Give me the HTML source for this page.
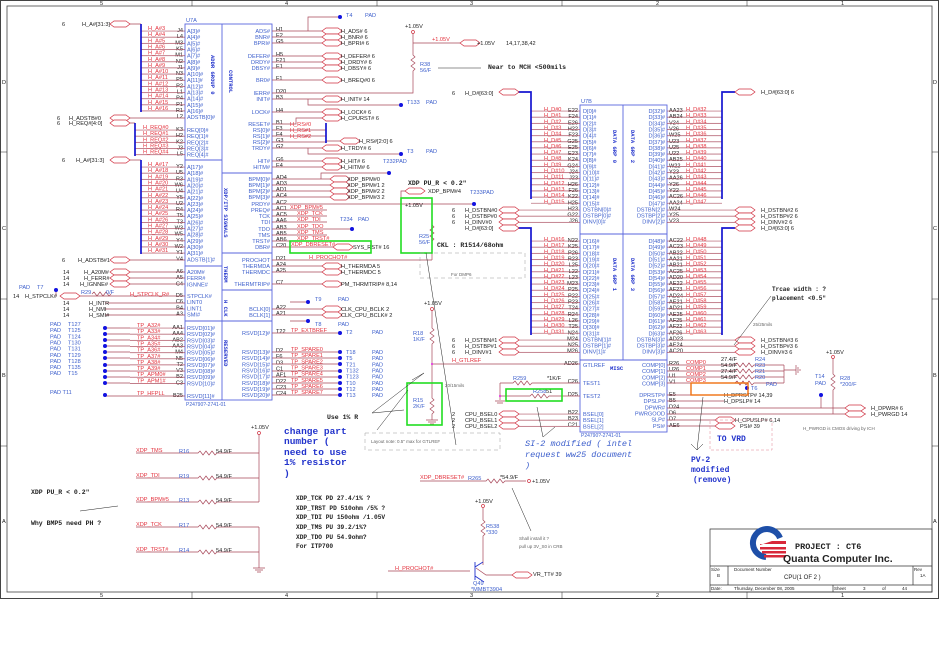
<!DOCTYPE html>
<html><head><meta charset="utf-8"><style>
html,body{margin:0;padding:0;background:#fff}
svg{display:block}
text{font-family:"Liberation Sans",sans-serif;font-size:5.6px}
.p{fill:#3d5fcc}.r{fill:#e3303c}.k{fill:#222}.b{fill:#2233cc}.gr{fill:#666}
.m{font-family:"Liberation Mono",monospace;font-weight:bold}
.w{stroke:#a8485a;stroke-width:.7;fill:none}
.bus{stroke:#1515d0;stroke-width:1.7;fill:none}
.ch{stroke:#5a66dd;stroke-width:.9;fill:none}
.fl{stroke:#d03040;stroke-width:.7;fill:#fff}
.d{fill:#1212e0}
.g{stroke:#22dd22;stroke-width:1.6;fill:none}
.bl{stroke:#222;stroke-width:.5;fill:none}
</style></head><body>
<svg width="950" height="672" viewBox="0 0 950 672" xmlns="http://www.w3.org/2000/svg">
<defs>
<path id="f" d="M0,0 l4,-3 h12 l4,3 l-4,3 h-12z" class="fl"/>
<pattern id="hl" width="4" height="6.15" patternUnits="userSpaceOnUse"><rect width="4" height="0.7" fill="#a8485a"/></pattern>
</defs>
<!-- frame -->
<rect x="0.5" y="0.5" width="938" height="598" fill="none" stroke="#444" stroke-width="1"/>
<rect x="7" y="6" width="925" height="586" fill="none" stroke="#444" stroke-width="0.8"/>
<path d="M192,0V6M377,0V6M562,0V6M747,0V6M192,592V599M377,592V599M562,592V599M747,592V599M0,152H7M0,299H7M0,446H7M932,152H938M932,299H938M932,446H938" class="bl" stroke-width="0.8"/>
<g class="k" style="font-size:4.5px"><text x="100" y="5">5</text><text x="285" y="5">4</text><text x="470" y="5">3</text><text x="656" y="5">2</text><text x="841" y="5">1</text>
<text x="100" y="597">5</text><text x="285" y="597">4</text><text x="470" y="597">3</text><text x="656" y="597">2</text><text x="841" y="597">1</text>
<text x="2" y="84">D</text><text x="2" y="230">C</text><text x="2" y="377">B</text><text x="2" y="523">A</text>
<text x="933" y="84">D</text><text x="933" y="230">C</text><text x="933" y="377">B</text><text x="933" y="523">A</text></g>

<!-- ===== U7A ===== -->
<rect x="185" y="24" width="87" height="376" class="ch"/>
<path d="M222,24V400M185,160H222M185,266H222M185,321H222M222,173H272M222,253H272M222,290H272M222,321H272" class="ch"/>
<text class="p" x="186" y="22">U7A</text>
<text class="p" x="186" y="406" style="font-size:5px">P24790?-2741-01</text>
<text transform="translate(211,55) rotate(90)" class="b m" style="font-size:5.5px">ADDR GROUP 0</text>
<text transform="translate(229,70) rotate(90)" class="b m" style="font-size:5.5px">CONTROL</text>
<text transform="translate(224,188) rotate(90)" class="b m" style="font-size:5.5px">XDP/ITP SIGNALS</text>
<text transform="translate(224,266) rotate(90)" class="b m" style="font-size:5.5px">THERM</text>
<text transform="translate(224,300) rotate(90)" class="b m" style="font-size:5.5px">H CLK</text>
<text transform="translate(224,340) rotate(90)" class="b m" style="font-size:5.5px">RESERVED</text>

<text class="p"><tspan x="187" y="33">A[3]#</tspan><tspan x="187" dy="6.15">A[4]#</tspan><tspan x="187" dy="6.15">A[5]#</tspan><tspan x="187" dy="6.15">A[6]#</tspan><tspan x="187" dy="6.15">A[7]#</tspan><tspan x="187" dy="6.15">A[8]#</tspan><tspan x="187" dy="6.15">A[9]#</tspan><tspan x="187" dy="6.15">A[10]#</tspan><tspan x="187" dy="6.15">A[11]#</tspan><tspan x="187" dy="6.15">A[12]#</tspan><tspan x="187" dy="6.15">A[13]#</tspan><tspan x="187" dy="6.15">A[14]#</tspan><tspan x="187" dy="6.15">A[15]#</tspan><tspan x="187" dy="6.15">A[16]#</tspan><tspan x="187" dy="6.15">ADSTB[0]#</tspan></text>
<text class="p"><tspan x="187" y="132">REQ[0]#</tspan><tspan x="187" dy="6.15">REQ[1]#</tspan><tspan x="187" dy="6.15">REQ[2]#</tspan><tspan x="187" dy="6.15">REQ[3]#</tspan><tspan x="187" dy="6.15">REQ[4]#</tspan></text>
<text class="p"><tspan x="187" y="169">A[17]#</tspan><tspan x="187" dy="6.15">A[18]#</tspan><tspan x="187" dy="6.15">A[19]#</tspan><tspan x="187" dy="6.15">A[20]#</tspan><tspan x="187" dy="6.15">A[21]#</tspan><tspan x="187" dy="6.15">A[22]#</tspan><tspan x="187" dy="6.15">A[23]#</tspan><tspan x="187" dy="6.15">A[24]#</tspan><tspan x="187" dy="6.15">A[25]#</tspan><tspan x="187" dy="6.15">A[26]#</tspan><tspan x="187" dy="6.15">A[27]#</tspan><tspan x="187" dy="6.15">A[28]#</tspan><tspan x="187" dy="6.15">A[29]#</tspan><tspan x="187" dy="6.15">A[30]#</tspan><tspan x="187" dy="6.15">A[31]#</tspan><tspan x="187" dy="6.15">ADSTB[1]#</tspan></text>
<text class="p"><tspan x="187" y="274">A20M#</tspan><tspan x="187" dy="6.15">FERR#</tspan><tspan x="187" dy="6.15">IGNNE#</tspan></text>
<text class="p"><tspan x="187" y="298">STPCLK#</tspan><tspan x="187" dy="6.15">LINT0</tspan><tspan x="187" dy="6.15">LINT1</tspan><tspan x="187" dy="6.15">SMI#</tspan></text>
<text class="p"><tspan x="187" y="330">RSVD[01]#</tspan><tspan x="187" dy="6.15">RSVD[02]#</tspan><tspan x="187" dy="6.15">RSVD[03]#</tspan><tspan x="187" dy="6.15">RSVD[04]#</tspan><tspan x="187" dy="6.15">RSVD[05]#</tspan><tspan x="187" dy="6.15">RSVD[06]#</tspan><tspan x="187" dy="6.15">RSVD[07]#</tspan><tspan x="187" dy="6.15">RSVD[08]#</tspan><tspan x="187" dy="6.15">RSVD[09]#</tspan><tspan x="187" dy="6.15">RSVD[10]#</tspan><tspan x="187" y="398">RSVD[11]#</tspan></text>

<text class="k" text-anchor="end"><tspan x="183" y="32">J4</tspan><tspan x="183" dy="6.15">L4</tspan><tspan x="183" dy="6.15">M3</tspan><tspan x="183" dy="6.15">K5</tspan><tspan x="183" dy="6.15">M1</tspan><tspan x="183" dy="6.15">N2</tspan><tspan x="183" dy="6.15">J1</tspan><tspan x="183" dy="6.15">N3</tspan><tspan x="183" dy="6.15">P5</tspan><tspan x="183" dy="6.15">P2</tspan><tspan x="183" dy="6.15">L1</tspan><tspan x="183" dy="6.15">P4</tspan><tspan x="183" dy="6.15">P1</tspan><tspan x="183" dy="6.15">R1</tspan><tspan x="183" dy="6.15">L2</tspan></text>
<text class="k" text-anchor="end"><tspan x="183" y="131">K3</tspan><tspan x="183" dy="6.15">H2</tspan><tspan x="183" dy="6.15">K2</tspan><tspan x="183" dy="6.15">J3</tspan><tspan x="183" dy="6.15">L5</tspan></text>
<text class="k" text-anchor="end"><tspan x="183" y="168">Y2</tspan><tspan x="183" dy="6.15">U5</tspan><tspan x="183" dy="6.15">R3</tspan><tspan x="183" dy="6.15">W6</tspan><tspan x="183" dy="6.15">U4</tspan><tspan x="183" dy="6.15">Y5</tspan><tspan x="183" dy="6.15">U2</tspan><tspan x="183" dy="6.15">R4</tspan><tspan x="183" dy="6.15">T5</tspan><tspan x="183" dy="6.15">T3</tspan><tspan x="183" dy="6.15">W3</tspan><tspan x="183" dy="6.15">W5</tspan><tspan x="183" dy="6.15">Y4</tspan><tspan x="183" dy="6.15">W2</tspan><tspan x="183" dy="6.15">Y1</tspan><tspan x="183" dy="6.15">V4</tspan></text>
<text class="k" text-anchor="end"><tspan x="183" y="273">A6</tspan><tspan x="183" dy="6.15">A5</tspan><tspan x="183" dy="6.15">C4</tspan><tspan x="183" y="297">D5</tspan><tspan x="183" dy="6.15">C6</tspan><tspan x="183" dy="6.15">B4</tspan><tspan x="183" dy="6.15">A3</tspan></text>
<text class="k" text-anchor="end"><tspan x="183" y="329">AA1</tspan><tspan x="183" dy="6.15">AA4</tspan><tspan x="183" dy="6.15">AB2</tspan><tspan x="183" dy="6.15">AA3</tspan><tspan x="183" dy="6.15">M4</tspan><tspan x="183" dy="6.15">N5</tspan><tspan x="183" dy="6.15">T2</tspan><tspan x="183" dy="6.15">V3</tspan><tspan x="183" dy="6.15">B2</tspan><tspan x="183" dy="6.15">C3</tspan><tspan x="183" y="397">B25</tspan></text>

<g transform="translate(141,30.65)"><rect width="44" height="81" fill="url(#hl)"/></g>
<g transform="translate(135,129.65)"><rect width="50" height="26" fill="url(#hl)"/></g>
<g transform="translate(141,166.65)"><rect width="44" height="87" fill="url(#hl)"/></g>
<g transform="translate(130,327.65)"><rect width="55" height="57" fill="url(#hl)"/></g>
<path class="w" d="M130,118H185M130,260H185M130,272H185M130,278H185M130,284H185M80,296H185M56,290V296M105,303H185M105,309H185M105,315H185M105,396H185M105,328H130M105,334H130M105,340H130M105,346H130M105,352H130M105,358H130M105,365H130M105,371H130M105,377H130M105,383H130M130,24H141M130,160H141M130,123H135"/>
<path class="w" d="M92,294l2,-2l3,4l3,-4l3,4l3,-4l3,4l2,-2"/>
<path class="bus" d="M141,24V112M135,123V156M141,160V254"/>
<use href="#f" x="110" y="24"/><use href="#f" x="110" y="118"/><use href="#f" x="110" y="123"/><use href="#f" x="110" y="160"/><use href="#f" x="110" y="260"/><use href="#f" x="110" y="272"/><use href="#f" x="110" y="278"/><use href="#f" x="110" y="284"/><use href="#f" x="60" y="296"/>
<text class="k"><tspan x="62" y="26">6</tspan><tspan x="82" y="26">H_A#[31:3]</tspan><tspan x="57" y="120">6</tspan><tspan x="69" y="120">H_ADSTB#0</tspan><tspan x="57" y="125">6</tspan><tspan x="69" y="125">H_REQ#[4:0]</tspan><tspan x="62" y="162">6</tspan><tspan x="76" y="162">H_A#[31:3]</tspan><tspan x="62" y="262">6</tspan><tspan x="78" y="262">H_ADSTB#1</tspan><tspan x="63" y="274">14</tspan><tspan x="84" y="274">H_A20M#</tspan><tspan x="63" y="280">14</tspan><tspan x="84" y="280">H_FERR#</tspan><tspan x="63" y="286">14</tspan><tspan x="80" y="286">H_IGNNE#</tspan><tspan x="13" y="298">14</tspan><tspan x="25" y="298">H_STPCLK#</tspan><tspan x="63" y="305">14</tspan><tspan x="89" y="305">H_INTR</tspan><tspan x="63" y="311">14</tspan><tspan x="89" y="311">H_NMI</tspan><tspan x="63" y="317">14</tspan><tspan x="89" y="317">H_SMI#</tspan></text>
<text class="p"><tspan x="19" y="289">PAD</tspan><tspan x="37" y="289">T7</tspan><tspan x="81" y="294">R29</tspan><tspan x="106" y="294">0/F</tspan></text>
<circle cx="56" cy="290" r="2" class="d"/>
<text class="r" x="130" y="296">H_STPCLK_R#</text>
<text class="r"><tspan x="148" y="30">H_A#3</tspan><tspan x="148" dy="6.15">H_A#4</tspan><tspan x="148" dy="6.15">H_A#5</tspan><tspan x="148" dy="6.15">H_A#6</tspan><tspan x="148" dy="6.15">H_A#7</tspan><tspan x="148" dy="6.15">H_A#8</tspan><tspan x="148" dy="6.15">H_A#9</tspan><tspan x="148" dy="6.15">H_A#10</tspan><tspan x="148" dy="6.15">H_A#11</tspan><tspan x="148" dy="6.15">H_A#12</tspan><tspan x="148" dy="6.15">H_A#13</tspan><tspan x="148" dy="6.15">H_A#14</tspan><tspan x="148" dy="6.15">H_A#15</tspan><tspan x="148" dy="6.15">H_A#16</tspan></text>
<text class="r"><tspan x="143" y="129">H_REQ#0</tspan><tspan x="143" dy="6.15">H_REQ#1</tspan><tspan x="143" dy="6.15">H_REQ#2</tspan><tspan x="143" dy="6.15">H_REQ#3</tspan><tspan x="143" dy="6.15">H_REQ#4</tspan></text>
<text class="r"><tspan x="148" y="166">H_A#17</tspan><tspan x="148" dy="6.15">H_A#18</tspan><tspan x="148" dy="6.15">H_A#19</tspan><tspan x="148" dy="6.15">H_A#20</tspan><tspan x="148" dy="6.15">H_A#21</tspan><tspan x="148" dy="6.15">H_A#22</tspan><tspan x="148" dy="6.15">H_A#23</tspan><tspan x="148" dy="6.15">H_A#24</tspan><tspan x="148" dy="6.15">H_A#25</tspan><tspan x="148" dy="6.15">H_A#26</tspan><tspan x="148" dy="6.15">H_A#27</tspan><tspan x="148" dy="6.15">H_A#28</tspan><tspan x="148" dy="6.15">H_A#29</tspan><tspan x="148" dy="6.15">H_A#30</tspan><tspan x="148" dy="6.15">H_A#31</tspan></text>
<text class="r"><tspan x="137" y="327">TP_A32#</tspan><tspan x="137" dy="6.15">TP_A33#</tspan><tspan x="137" dy="6.15">TP_A34#</tspan><tspan x="137" dy="6.15">TP_A35#</tspan><tspan x="137" dy="6.15">TP_A36#</tspan><tspan x="137" dy="6.15">TP_A37#</tspan><tspan x="137" dy="6.15">TP_A38#</tspan><tspan x="137" dy="6.15">TP_A39#</tspan><tspan x="137" dy="6.15">TP_APM0#</tspan><tspan x="137" dy="6.15">TP_APM1#</tspan><tspan x="137" y="395">TP_HFPLL</tspan></text>
<g class="d"><circle cx="105" cy="328" r="2"/><circle cx="105" cy="334" r="2"/><circle cx="105" cy="340" r="2"/><circle cx="105" cy="346" r="2"/><circle cx="105" cy="352" r="2"/><circle cx="105" cy="358" r="2"/><circle cx="105" cy="365" r="2"/><circle cx="105" cy="371" r="2"/><circle cx="105" cy="377" r="2"/><circle cx="105" cy="383" r="2"/><circle cx="105" cy="395" r="2"/></g>
<text class="p"><tspan x="50" y="326">PAD</tspan><tspan x="68" y="326">T127</tspan><tspan x="50" dy="6.15">PAD</tspan><tspan x="68">T125</tspan><tspan x="50" dy="6.15">PAD</tspan><tspan x="68">T124</tspan><tspan x="50" dy="6.15">PAD</tspan><tspan x="68">T130</tspan><tspan x="50" dy="6.15">PAD</tspan><tspan x="68">T131</tspan><tspan x="50" dy="6.15">PAD</tspan><tspan x="68">T129</tspan><tspan x="50" dy="6.15">PAD</tspan><tspan x="68">T128</tspan><tspan x="50" dy="6.15">PAD</tspan><tspan x="68">T135</tspan><tspan x="50" dy="6.15">PAD</tspan><tspan x="68">T15</tspan><tspan x="50" y="394">PAD T11</tspan></text>

<text class="p" text-anchor="end"><tspan x="270" y="33">ADS#</tspan><tspan x="270" y="39">BNR#</tspan><tspan x="270" y="45">BPRI#</tspan><tspan x="270" y="58">DEFER#</tspan><tspan x="270" y="64">DRDY#</tspan><tspan x="270" y="70">DBSY#</tspan><tspan x="270" y="82">BR0#</tspan><tspan x="270" y="95">IERR#</tspan><tspan x="270" y="101">INIT#</tspan><tspan x="270" y="114">LOCK#</tspan><tspan x="270" y="126">RESET#</tspan><tspan x="270" y="132">RS[0]#</tspan><tspan x="270" y="138">RS[1]#</tspan><tspan x="270" y="144">RS[2]#</tspan><tspan x="270" y="150">TRDY#</tspan><tspan x="270" y="163">HIT#</tspan><tspan x="270" y="169">HITM#</tspan><tspan x="270" y="181">BPM[0]#</tspan><tspan x="270" y="187">BPM[1]#</tspan><tspan x="270" y="193">BPM[2]#</tspan><tspan x="270" y="199">BPM[3]#</tspan><tspan x="270" y="206">PRDY#</tspan><tspan x="270" y="212">PREQ#</tspan><tspan x="270" y="218">TCK</tspan><tspan x="270" y="224">TDI</tspan><tspan x="270" y="231">TDO</tspan><tspan x="270" y="237">TMS</tspan><tspan x="270" y="243">TRST#</tspan><tspan x="270" y="249">DBR#</tspan><tspan x="270" y="262">PROCHOT</tspan><tspan x="270" y="268">THERMDA</tspan><tspan x="270" y="274">THERMDC</tspan><tspan x="270" y="286">THERMTRIP#</tspan><tspan x="270" y="311">BCLK[0]</tspan><tspan x="270" y="317">BCLK[1]</tspan><tspan x="270" y="335">RSVD[12]#</tspan><tspan x="270" y="354">RSVD[13]#</tspan><tspan x="270" dy="6.15">RSVD[14]#</tspan><tspan x="270" dy="6.15">RSVD[15]#</tspan><tspan x="270" dy="6.15">RSVD[16]#</tspan><tspan x="270" dy="6.15">RSVD[17]#</tspan><tspan x="270" dy="6.15">RSVD[18]#</tspan><tspan x="270" dy="6.15">RSVD[19]#</tspan><tspan x="270" dy="6.15">RSVD[20]#</tspan></text>
<text class="k"><tspan x="276" y="31">H1</tspan><tspan x="276" y="37">E2</tspan><tspan x="276" y="43">G5</tspan><tspan x="276" y="56">H5</tspan><tspan x="276" y="62">F21</tspan><tspan x="276" y="68">E1</tspan><tspan x="276" y="80">F1</tspan><tspan x="276" y="93">D20</tspan><tspan x="276" y="99">B3</tspan><tspan x="276" y="112">H4</tspan><tspan x="276" y="124">B1</tspan><tspan x="276" y="130">F3</tspan><tspan x="276" y="136">F4</tspan><tspan x="276" y="142">G3</tspan><tspan x="276" y="148">G2</tspan><tspan x="276" y="161">G6</tspan><tspan x="276" y="167">E4</tspan><tspan x="276" y="179">AD4</tspan><tspan x="276" y="185">AD3</tspan><tspan x="276" y="191">AD1</tspan><tspan x="276" y="197">AC4</tspan><tspan x="276" y="204">AC2</tspan><tspan x="276" y="210">AC1</tspan><tspan x="276" y="216">AC5</tspan><tspan x="276" y="222">AA6</tspan><tspan x="276" y="229">AB3</tspan><tspan x="276" y="235">AB5</tspan><tspan x="276" y="241">AB6</tspan><tspan x="276" y="247">C20</tspan><tspan x="276" y="260">D21</tspan><tspan x="276" y="266">A24</tspan><tspan x="276" y="272">A25</tspan><tspan x="276" y="284">C7</tspan><tspan x="276" y="309">A22</tspan><tspan x="276" y="315">A21</tspan><tspan x="276" y="333">T22</tspan><tspan x="276" y="352">D2</tspan><tspan x="276" dy="6.15">F6</tspan><tspan x="276" dy="6.15">D3</tspan><tspan x="276" dy="6.15">C1</tspan><tspan x="276" dy="6.15">AF1</tspan><tspan x="276" dy="6.15">D22</tspan><tspan x="276" dy="6.15">C23</tspan><tspan x="276" dy="6.15">C24</tspan></text>
<path class="w" d="M272,31H322M272,37H322M272,43H322M272,56H322M272,62H322M272,68H322M272,80H322M272,93H413V75M272,99H322M272,112H322M272,124H296V118H322M272,130H326M272,136H326M272,142H326M326,141H340M272,148H322M272,161H322M272,167H322M272,179H330M272,185H330M272,191H330M272,197H330M272,204H475M272,210H327M272,216H327M272,222H327M272,229H352M272,235H327M272,241H327M272,247H333M272,260H413M272,266H322M272,272H322M272,284H322M272,309H322M272,315H322M272,333H340M272,352H340M272,358H340M272,364H340M272,371H340M272,377H340M272,383H340M272,389H340M272,395H340M308,31V17H340M308,99V105H401M308,148V154H401M321,179V173H389M290,302H308M290,321H308"/>
<path class="bus" d="M326,123V143" stroke-width="1.2"/>
<g><use href="#f" x="322" y="31"/><use href="#f" x="322" y="37"/><use href="#f" x="322" y="43"/><use href="#f" x="322" y="56"/><use href="#f" x="322" y="62"/><use href="#f" x="322" y="68"/><use href="#f" x="322" y="80"/><use href="#f" x="322" y="99"/><use href="#f" x="322" y="112"/><use href="#f" x="322" y="118"/><use href="#f" x="340" y="141"/><use href="#f" x="322" y="148"/><use href="#f" x="322" y="161"/><use href="#f" x="322" y="167"/><use href="#f" x="330" y="179"/><use href="#f" x="330" y="185"/><use href="#f" x="330" y="191"/><use href="#f" x="330" y="197"/><use href="#f" x="333" y="247"/><use href="#f" x="322" y="266"/><use href="#f" x="322" y="272"/><use href="#f" x="322" y="284"/><use href="#f" x="322" y="309"/><use href="#f" x="322" y="315"/></g>
<text class="k"><tspan x="341" y="33">H_ADS#   6</tspan><tspan x="341" y="39">H_BNR#   6</tspan><tspan x="341" y="45">H_BPRI#   6</tspan><tspan x="341" y="58">H_DEFER#   6</tspan><tspan x="341" y="64">H_DRDY#   6</tspan><tspan x="341" y="70">H_DBSY#   6</tspan><tspan x="341" y="82">H_BREQ#0   6</tspan><tspan x="341" y="101">H_INIT#     14</tspan><tspan x="341" y="114">H_LOCK#   6</tspan><tspan x="341" y="120">H_CPURST#   6</tspan><tspan x="359" y="143">H_RS#[2:0]   6</tspan><tspan x="341" y="150">H_TRDY#   6</tspan><tspan x="341" y="163">H_HIT#      6</tspan><tspan x="341" y="169">H_HITM#   6</tspan><tspan x="347" y="181">XDP_BPM#0</tspan><tspan x="347" y="187">XDP_BPM#1   2</tspan><tspan x="347" y="193">XDP_BPM#2   2</tspan><tspan x="347" y="199">XDP_BPM#3   2</tspan><tspan x="353" y="249">SYS_RST#   16</tspan><tspan x="341" y="268">H_THERMDA   5</tspan><tspan x="341" y="274">H_THERMDC   5</tspan><tspan x="341" y="286">PM_THRMTRIP#  8,14</tspan><tspan x="341" y="311">CLK_CPU_BCLK   2</tspan><tspan x="341" y="317">CLK_CPU_BCLK#  2</tspan></text>
<text class="r"><tspan x="290" y="126">H_RS#0</tspan><tspan x="290" y="132">H_RS#1</tspan><tspan x="290" y="138">H_RS#2</tspan><tspan x="290" y="209">XDP_BPM#5</tspan><tspan x="297" y="215">XDP_TCK</tspan><tspan x="297" y="221">XDP_TDI</tspan><tspan x="297" y="228">XDP_TDO</tspan><tspan x="297" y="234">XDP_TMS</tspan><tspan x="297" y="240">XDP_TRST#</tspan><tspan x="291" y="246">XDP_DBRESET#</tspan><tspan x="309" y="259">H_PROCHOT#</tspan><tspan x="291" y="332">TP_EXTBREF</tspan><tspan x="291" y="351">TP_SPARE0</tspan><tspan x="291" dy="6.15">TP_SPARE1</tspan><tspan x="291" dy="6.15">TP_SPARE2</tspan><tspan x="291" dy="6.15">TP_SPARE3</tspan><tspan x="291" dy="6.15">TP_SPARE4</tspan><tspan x="291" dy="6.15">TP_SPARE5</tspan><tspan x="291" dy="6.15">TP_SPARE6</tspan><tspan x="291" dy="6.15">TP_SPARE7</tspan></text>
<rect x="290" y="241" width="81" height="12" class="g"/>
<g class="d"><circle cx="340" cy="17" r="2"/><circle cx="401" cy="105" r="2"/><circle cx="401" cy="154" r="2"/><circle cx="389" cy="173" r="2"/><circle cx="352" cy="229" r="2"/><circle cx="474" cy="204" r="2"/><circle cx="308" cy="302" r="2"/><circle cx="308" cy="321" r="2"/><circle cx="340" cy="333" r="2"/><circle cx="340" cy="352" r="2"/><circle cx="340" cy="358" r="2"/><circle cx="340" cy="364" r="2"/><circle cx="340" cy="371" r="2"/><circle cx="340" cy="377" r="2"/><circle cx="340" cy="383" r="2"/><circle cx="340" cy="389" r="2"/><circle cx="340" cy="395" r="2"/></g>
<text class="p"><tspan x="346" y="17">T4</tspan><tspan x="365" y="17">PAD</tspan><tspan x="407" y="104">T133</tspan><tspan x="426" y="104">PAD</tspan><tspan x="407" y="153">T3</tspan><tspan x="426" y="153">PAD</tspan><tspan x="383" y="163">T232PAD</tspan><tspan x="340" y="221">T234</tspan><tspan x="358" y="221">PAD</tspan><tspan x="315" y="301">T9</tspan><tspan x="338" y="301">PAD</tspan><tspan x="315" y="326">T8</tspan><tspan x="338" y="326">PAD</tspan><tspan x="346" y="334">T2</tspan><tspan x="372" y="334">PAD</tspan><tspan x="346" y="354">T18</tspan><tspan x="372" y="354">PAD</tspan><tspan x="346" dy="6.15">T5</tspan><tspan x="372">PAD</tspan><tspan x="346" dy="6.15">T21</tspan><tspan x="372">PAD</tspan><tspan x="346" dy="6.15">T132</tspan><tspan x="372">PAD</tspan><tspan x="346" dy="6.15">T123</tspan><tspan x="372">PAD</tspan><tspan x="346" dy="6.15">T10</tspan><tspan x="372">PAD</tspan><tspan x="346" dy="6.15">T12</tspan><tspan x="372">PAD</tspan><tspan x="346" dy="6.15">T13</tspan><tspan x="372">PAD</tspan></text>

<!-- top middle R38 -->
<text class="k" x="405" y="28">+1.05V</text>
<circle cx="413" cy="32" r="1.5" fill="none" stroke="#d03040" stroke-width=".7"/>
<path class="w" d="M413,33.5V55l2,2-4,3 4,3-4,3 4,3-2,2V75M413,43H462"/>
<text class="r" x="432" y="41">+1.05V</text>
<use href="#f" x="460" y="43"/>
<text class="k"><tspan x="477" y="45">+1.05V</tspan><tspan x="506" y="45">14,17,38,42</tspan></text>
<text class="p"><tspan x="420" y="66">R38</tspan><tspan x="420" y="72">56/F</tspan></text>
<path class="bl" d="M438,68H481" stroke-width=".8"/>
<text class="k m" x="488" y="69" style="font-size:6.5px">Near to MCH &lt;500mils</text>

<!-- XDP PU_R / R25 -->
<text class="k m" x="408" y="185" style="font-size:6.5px">XDP PU_R &lt; 0.2"</text>
<path class="w" d="M401,204V191H405M432,204V225l2,2-4,3 4,3-4,3 4,3-2,2V260M413,260H432"/>
<use href="#f" x="405" y="191"/>
<text class="k" x="428" y="193">XDP_BPM#4</text>
<text class="p" x="470" y="194">T233PAD</text>
<rect x="401" y="198" width="31" height="55" class="g"/>
<text class="k" x="405" y="207">+1.05V</text>
<text class="p"><tspan x="419" y="238">R25</tspan><tspan x="419" y="244">56/F</tspan></text>
<text class="k m" x="437" y="247" style="font-size:6.5px">CKL : R1514/68ohm</text>
<path d="M420,253H525V278H420Z" fill="none" stroke="#999" stroke-width=".5" stroke-dasharray="4,3"/>
<text class="gr" x="451" y="276" style="font-size:4.5px">For DMP6</text>
<path class="bl" d="M426,253L456,445"/>

<!-- ===== U7B ===== -->
<rect x="580" y="105" width="87" height="327" class="ch"/>
<path d="M623,105V360M580,234H667M580,360H667" class="ch"/>
<text class="p" x="581" y="103">U7B</text>
<text class="p" x="581" y="437" style="font-size:5px">P24790?-2741-01</text>
<text transform="translate(613,130) rotate(90)" class="b m" style="font-size:5.5px">DATA GRP 0</text>
<text transform="translate(631,130) rotate(90)" class="b m" style="font-size:5.5px">DATA GRP 2</text>
<text transform="translate(613,258) rotate(90)" class="b m" style="font-size:5.5px">DATA GRP 1</text>
<text transform="translate(631,258) rotate(90)" class="b m" style="font-size:5.5px">DATA GRP 3</text>
<text class="b m" x="610" y="370" style="font-size:5.5px">MISC</text>
<text class="p"><tspan x="583" y="113">D[0]#</tspan><tspan x="583" dy="6.15">D[1]#</tspan><tspan x="583" dy="6.15">D[2]#</tspan><tspan x="583" dy="6.15">D[3]#</tspan><tspan x="583" dy="6.15">D[4]#</tspan><tspan x="583" dy="6.15">D[5]#</tspan><tspan x="583" dy="6.15">D[6]#</tspan><tspan x="583" dy="6.15">D[7]#</tspan><tspan x="583" dy="6.15">D[8]#</tspan><tspan x="583" dy="6.15">D[9]#</tspan><tspan x="583" dy="6.15">D[10]#</tspan><tspan x="583" dy="6.15">D[11]#</tspan><tspan x="583" dy="6.15">D[12]#</tspan><tspan x="583" dy="6.15">D[13]#</tspan><tspan x="583" dy="6.15">D[14]#</tspan><tspan x="583" dy="6.15">D[15]#</tspan><tspan x="583" dy="6.15">DSTBN[0]#</tspan><tspan x="583" dy="6.15">DSTBP[0]#</tspan><tspan x="583" dy="6.15">DINV[0]#</tspan></text>
<text class="p"><tspan x="583" y="243">D[16]#</tspan><tspan x="583" dy="6.15">D[17]#</tspan><tspan x="583" dy="6.15">D[18]#</tspan><tspan x="583" dy="6.15">D[19]#</tspan><tspan x="583" dy="6.15">D[20]#</tspan><tspan x="583" dy="6.15">D[21]#</tspan><tspan x="583" dy="6.15">D[22]#</tspan><tspan x="583" dy="6.15">D[23]#</tspan><tspan x="583" dy="6.15">D[24]#</tspan><tspan x="583" dy="6.15">D[25]#</tspan><tspan x="583" dy="6.15">D[26]#</tspan><tspan x="583" dy="6.15">D[27]#</tspan><tspan x="583" dy="6.15">D[28]#</tspan><tspan x="583" dy="6.15">D[29]#</tspan><tspan x="583" dy="6.15">D[30]#</tspan><tspan x="583" dy="6.15">D[31]#</tspan><tspan x="583" dy="6.15">DSTBN[1]#</tspan><tspan x="583" dy="6.15">DSTBP[1]#</tspan><tspan x="583" dy="6.15">DINV[1]#</tspan></text>
<text class="p"><tspan x="583" y="367">GTLREF</tspan><tspan x="583" y="385">TEST1</tspan><tspan x="583" y="398">TEST2</tspan><tspan x="583" y="416">BSEL[0]</tspan><tspan x="583" dy="6.15">BSEL[1]</tspan><tspan x="583" dy="6.15">BSEL[2]</tspan></text>
<text class="p" text-anchor="end"><tspan x="665" y="113">D[32]#</tspan><tspan x="665" dy="6.15">D[33]#</tspan><tspan x="665" dy="6.15">D[34]#</tspan><tspan x="665" dy="6.15">D[35]#</tspan><tspan x="665" dy="6.15">D[36]#</tspan><tspan x="665" dy="6.15">D[37]#</tspan><tspan x="665" dy="6.15">D[38]#</tspan><tspan x="665" dy="6.15">D[39]#</tspan><tspan x="665" dy="6.15">D[40]#</tspan><tspan x="665" dy="6.15">D[41]#</tspan><tspan x="665" dy="6.15">D[42]#</tspan><tspan x="665" dy="6.15">D[43]#</tspan><tspan x="665" dy="6.15">D[44]#</tspan><tspan x="665" dy="6.15">D[45]#</tspan><tspan x="665" dy="6.15">D[46]#</tspan><tspan x="665" dy="6.15">D[47]#</tspan><tspan x="665" dy="6.15">DSTBN[2]#</tspan><tspan x="665" dy="6.15">DSTBP[2]#</tspan><tspan x="665" dy="6.15">DINV[2]#</tspan></text>
<text class="p" text-anchor="end"><tspan x="665" y="243">D[48]#</tspan><tspan x="665" dy="6.15">D[49]#</tspan><tspan x="665" dy="6.15">D[50]#</tspan><tspan x="665" dy="6.15">D[51]#</tspan><tspan x="665" dy="6.15">D[52]#</tspan><tspan x="665" dy="6.15">D[53]#</tspan><tspan x="665" dy="6.15">D[54]#</tspan><tspan x="665" dy="6.15">D[55]#</tspan><tspan x="665" dy="6.15">D[56]#</tspan><tspan x="665" dy="6.15">D[57]#</tspan><tspan x="665" dy="6.15">D[58]#</tspan><tspan x="665" dy="6.15">D[59]#</tspan><tspan x="665" dy="6.15">D[60]#</tspan><tspan x="665" dy="6.15">D[61]#</tspan><tspan x="665" dy="6.15">D[62]#</tspan><tspan x="665" dy="6.15">D[63]#</tspan><tspan x="665" dy="6.15">DSTBN[3]#</tspan><tspan x="665" dy="6.15">DSTBP[3]#</tspan><tspan x="665" dy="6.15">DINV[3]#</tspan></text>
<text class="p" text-anchor="end"><tspan x="665" y="367">COMP[0]</tspan><tspan x="665" dy="6.15">COMP[1]</tspan><tspan x="665" dy="6.15">COMP[2]</tspan><tspan x="665" dy="6.15">COMP[3]</tspan><tspan x="665" y="397">DPRSTP#</tspan><tspan x="665" dy="6.15">DPSLP#</tspan><tspan x="665" dy="6.15">DPWR#</tspan><tspan x="665" dy="6.15">PWRGOOD</tspan><tspan x="665" dy="6.15">SLP#</tspan><tspan x="665" dy="6.15">PSI#</tspan></text>
<text class="k" text-anchor="end"><tspan x="578" y="112">E22</tspan><tspan x="578" dy="6.15">F24</tspan><tspan x="578" dy="6.15">E26</tspan><tspan x="578" dy="6.15">H22</tspan><tspan x="578" dy="6.15">F23</tspan><tspan x="578" dy="6.15">G25</tspan><tspan x="578" dy="6.15">E25</tspan><tspan x="578" dy="6.15">E23</tspan><tspan x="578" dy="6.15">K24</tspan><tspan x="578" dy="6.15">G24</tspan><tspan x="578" dy="6.15">J24</tspan><tspan x="578" dy="6.15">J23</tspan><tspan x="578" dy="6.15">H26</tspan><tspan x="578" dy="6.15">F26</tspan><tspan x="578" dy="6.15">K22</tspan><tspan x="578" dy="6.15">H25</tspan><tspan x="578" dy="6.15">H23</tspan><tspan x="578" dy="6.15">G22</tspan><tspan x="578" dy="6.15">J26</tspan></text>
<text class="k" text-anchor="end"><tspan x="578" y="242">N22</tspan><tspan x="578" dy="6.15">K25</tspan><tspan x="578" dy="6.15">P26</tspan><tspan x="578" dy="6.15">R23</tspan><tspan x="578" dy="6.15">L25</tspan><tspan x="578" dy="6.15">L22</tspan><tspan x="578" dy="6.15">L23</tspan><tspan x="578" dy="6.15">M23</tspan><tspan x="578" dy="6.15">P25</tspan><tspan x="578" dy="6.15">P22</tspan><tspan x="578" dy="6.15">P23</tspan><tspan x="578" dy="6.15">T24</tspan><tspan x="578" dy="6.15">R24</tspan><tspan x="578" dy="6.15">L26</tspan><tspan x="578" dy="6.15">T25</tspan><tspan x="578" dy="6.15">N24</tspan><tspan x="578" dy="6.15">M24</tspan><tspan x="578" dy="6.15">N25</tspan><tspan x="578" dy="6.15">M26</tspan><tspan x="578" y="365">AD26</tspan><tspan x="578" y="383">C26</tspan><tspan x="578" y="396">D25</tspan><tspan x="578" y="414">B22</tspan><tspan x="578" dy="6.15">B23</tspan><tspan x="578" dy="6.15">C21</tspan></text>
<text class="k"><tspan x="669" y="112">AA23</tspan><tspan x="669" dy="6.15">AB24</tspan><tspan x="669" dy="6.15">V24</tspan><tspan x="669" dy="6.15">V26</tspan><tspan x="669" dy="6.15">W25</tspan><tspan x="669" dy="6.15">U23</tspan><tspan x="669" dy="6.15">U25</tspan><tspan x="669" dy="6.15">U22</tspan><tspan x="669" dy="6.15">AB25</tspan><tspan x="669" dy="6.15">W22</tspan><tspan x="669" dy="6.15">Y23</tspan><tspan x="669" dy="6.15">AA26</tspan><tspan x="669" dy="6.15">Y26</tspan><tspan x="669" dy="6.15">Y22</tspan><tspan x="669" dy="6.15">AC26</tspan><tspan x="669" dy="6.15">AA24</tspan><tspan x="669" dy="6.15">W24</tspan><tspan x="669" dy="6.15">Y25</tspan><tspan x="669" dy="6.15">V23</tspan></text>
<text class="k"><tspan x="669" y="242">AC22</tspan><tspan x="669" dy="6.15">AC23</tspan><tspan x="669" dy="6.15">AB22</tspan><tspan x="669" dy="6.15">AA21</tspan><tspan x="669" dy="6.15">AB21</tspan><tspan x="669" dy="6.15">AC25</tspan><tspan x="669" dy="6.15">AD20</tspan><tspan x="669" dy="6.15">AE22</tspan><tspan x="669" dy="6.15">AF23</tspan><tspan x="669" dy="6.15">AD24</tspan><tspan x="669" dy="6.15">AE21</tspan><tspan x="669" dy="6.15">AD21</tspan><tspan x="669" dy="6.15">AE25</tspan><tspan x="669" dy="6.15">AF25</tspan><tspan x="669" dy="6.15">AF22</tspan><tspan x="669" dy="6.15">AF26</tspan><tspan x="669" dy="6.15">AD23</tspan><tspan x="669" dy="6.15">AE24</tspan><tspan x="669" dy="6.15">AC20</tspan><tspan x="669" y="365">R26</tspan><tspan x="669" dy="6.15">U26</tspan><tspan x="669" dy="6.15">U1</tspan><tspan x="669" dy="6.15">V1</tspan><tspan x="669" y="396">E5</tspan><tspan x="669" dy="6.15">B5</tspan><tspan x="669" dy="6.15">D24</tspan><tspan x="669" dy="6.15">D6</tspan><tspan x="669" dy="6.15">D7</tspan><tspan x="669" dy="6.15">AE6</tspan></text>
<g transform="translate(531,110.65)"><rect width="49" height="93" fill="url(#hl)"/></g>
<g transform="translate(531,240.65)"><rect width="49" height="93" fill="url(#hl)"/></g>
<g transform="translate(667,110.65)"><rect width="55" height="93" fill="url(#hl)"/></g>
<g transform="translate(667,240.65)"><rect width="55" height="93" fill="url(#hl)"/></g>
<g transform="translate(518,209.65)"><rect width="62" height="13.3" fill="url(#hl)"/></g>
<g transform="translate(518,339.65)"><rect width="62" height="13.3" fill="url(#hl)"/></g>
<g transform="translate(667,209.65)"><rect width="68" height="13.3" fill="url(#hl)"/></g>
<g transform="translate(667,339.65)"><rect width="68" height="13.3" fill="url(#hl)"/></g>
<g transform="translate(518,413.65)"><rect width="62" height="13.3" fill="url(#hl)"/></g>
<path class="bus" d="M518,92H531V199M518,228H531V335M735,92H722V199M735,228H722V335"/>
<text class="r"><tspan x="544" y="111">H_D#0</tspan><tspan x="544" dy="6.15">H_D#1</tspan><tspan x="544" dy="6.15">H_D#2</tspan><tspan x="544" dy="6.15">H_D#3</tspan><tspan x="544" dy="6.15">H_D#4</tspan><tspan x="544" dy="6.15">H_D#5</tspan><tspan x="544" dy="6.15">H_D#6</tspan><tspan x="544" dy="6.15">H_D#7</tspan><tspan x="544" dy="6.15">H_D#8</tspan><tspan x="544" dy="6.15">H_D#9</tspan><tspan x="544" dy="6.15">H_D#10</tspan><tspan x="544" dy="6.15">H_D#11</tspan><tspan x="544" dy="6.15">H_D#12</tspan><tspan x="544" dy="6.15">H_D#13</tspan><tspan x="544" dy="6.15">H_D#14</tspan><tspan x="544" dy="6.15">H_D#15</tspan></text>
<text class="r"><tspan x="544" y="241">H_D#16</tspan><tspan x="544" dy="6.15">H_D#17</tspan><tspan x="544" dy="6.15">H_D#18</tspan><tspan x="544" dy="6.15">H_D#19</tspan><tspan x="544" dy="6.15">H_D#20</tspan><tspan x="544" dy="6.15">H_D#21</tspan><tspan x="544" dy="6.15">H_D#22</tspan><tspan x="544" dy="6.15">H_D#23</tspan><tspan x="544" dy="6.15">H_D#24</tspan><tspan x="544" dy="6.15">H_D#25</tspan><tspan x="544" dy="6.15">H_D#26</tspan><tspan x="544" dy="6.15">H_D#27</tspan><tspan x="544" dy="6.15">H_D#28</tspan><tspan x="544" dy="6.15">H_D#29</tspan><tspan x="544" dy="6.15">H_D#30</tspan><tspan x="544" dy="6.15">H_D#31</tspan></text>
<text class="r"><tspan x="686" y="111">H_D#32</tspan><tspan x="686" dy="6.15">H_D#33</tspan><tspan x="686" dy="6.15">H_D#34</tspan><tspan x="686" dy="6.15">H_D#35</tspan><tspan x="686" dy="6.15">H_D#36</tspan><tspan x="686" dy="6.15">H_D#37</tspan><tspan x="686" dy="6.15">H_D#38</tspan><tspan x="686" dy="6.15">H_D#39</tspan><tspan x="686" dy="6.15">H_D#40</tspan><tspan x="686" dy="6.15">H_D#41</tspan><tspan x="686" dy="6.15">H_D#42</tspan><tspan x="686" dy="6.15">H_D#43</tspan><tspan x="686" dy="6.15">H_D#44</tspan><tspan x="686" dy="6.15">H_D#45</tspan><tspan x="686" dy="6.15">H_D#46</tspan><tspan x="686" dy="6.15">H_D#47</tspan></text>
<text class="r"><tspan x="686" y="241">H_D#48</tspan><tspan x="686" dy="6.15">H_D#49</tspan><tspan x="686" dy="6.15">H_D#50</tspan><tspan x="686" dy="6.15">H_D#51</tspan><tspan x="686" dy="6.15">H_D#52</tspan><tspan x="686" dy="6.15">H_D#53</tspan><tspan x="686" dy="6.15">H_D#54</tspan><tspan x="686" dy="6.15">H_D#55</tspan><tspan x="686" dy="6.15">H_D#56</tspan><tspan x="686" dy="6.15">H_D#57</tspan><tspan x="686" dy="6.15">H_D#58</tspan><tspan x="686" dy="6.15">H_D#59</tspan><tspan x="686" dy="6.15">H_D#60</tspan><tspan x="686" dy="6.15">H_D#61</tspan><tspan x="686" dy="6.15">H_D#62</tspan><tspan x="686" dy="6.15">H_D#63</tspan></text>
<g><use href="#f" x="499" y="92"/><use href="#f" x="499" y="210"/><use href="#f" x="499" y="216"/><use href="#f" x="499" y="222"/><use href="#f" x="499" y="228"/><use href="#f" x="499" y="340"/><use href="#f" x="499" y="346"/><use href="#f" x="499" y="352"/><use href="#f" x="499" y="414"/><use href="#f" x="499" y="420"/><use href="#f" x="499" y="426"/>
<use href="#f" x="735" y="92"/><use href="#f" x="735" y="210"/><use href="#f" x="735" y="216"/><use href="#f" x="735" y="222"/><use href="#f" x="735" y="228"/><use href="#f" x="735" y="340"/><use href="#f" x="735" y="346"/><use href="#f" x="735" y="352"/></g>
<text class="k"><tspan x="452" y="95">6</tspan><tspan x="465" y="95">H_D#[63:0]</tspan><tspan x="452" y="212">6</tspan><tspan x="465" y="212">H_DSTBN#0</tspan><tspan x="452" y="218">6</tspan><tspan x="465" y="218">H_DSTBP#0</tspan><tspan x="452" y="224">6</tspan><tspan x="465" y="224">H_DINV#0</tspan><tspan x="465" y="230">H_D#[63:0]</tspan><tspan x="452" y="342">6</tspan><tspan x="465" y="342">H_DSTBN#1</tspan><tspan x="452" y="348">6</tspan><tspan x="465" y="348">H_DSTBP#1</tspan><tspan x="452" y="354">6</tspan><tspan x="465" y="354">H_DINV#1</tspan><tspan x="452" y="416">2</tspan><tspan x="465" y="416">CPU_BSEL0</tspan><tspan x="452" y="422">2</tspan><tspan x="465" y="422">CPU_BSEL1</tspan><tspan x="452" y="428">2</tspan><tspan x="465" y="428">CPU_BSEL2</tspan>
<tspan x="761" y="94">H_D#[63:0]   6</tspan><tspan x="761" y="212">H_DSTBN#2   6</tspan><tspan x="761" y="218">H_DSTBP#2   6</tspan><tspan x="761" y="224">H_DINV#2   6</tspan><tspan x="761" y="230">H_D#[63:0]   6</tspan><tspan x="761" y="342">H_DSTBN#3   6</tspan><tspan x="761" y="348">H_DSTBP#3   6</tspan><tspan x="761" y="354">H_DINV#3   6</tspan></text>
<text class="k m" style="font-size:6px"><tspan x="772" y="291">Trcae width : ?</tspan><tspan x="772" y="300">placement &lt;0.5"</tspan></text>
<path class="bl" d="M771,296L734,345"/>
<text class="gr" x="753" y="326" style="font-size:4.5px">25/25mils</text>

<!-- GTLREF / R18 / R15 -->
<text class="k" x="424" y="305">+1.05V</text>
<circle cx="432" cy="309" r="1.5" fill="none" stroke="#d03040" stroke-width=".7"/>
<path class="w" d="M432,310.5V328l2,2-4,3 4,3-4,3 4,3-2,2V398l2,2-4,3 4,3-4,3 4,3-2,2V420M432,364H580M426,420H438M428,422H436M430,424H434"/>
<circle cx="432" cy="364" r="1" fill="#e020e0"/>
<text class="p"><tspan x="413" y="335">R18</tspan><tspan x="413" y="341">1K/F</tspan><tspan x="413" y="402">R15</tspan><tspan x="413" y="408">2K/F</tspan></text>
<text class="r" x="452" y="362">H_GTLREF</text>
<rect x="407" y="383" width="35" height="42" class="g"/>
<text class="gr" x="445" y="387" style="font-size:4.5px">20/15mils</text>
<path class="bl" d="M372,413L424,373L412,380M372,413L404,410M377,430L408,390"/>
<text class="k m" x="327" y="419" style="font-size:6.5px">Use 1% R</text>
<path d="M365,433H500V450H365Z" fill="none" stroke="#999" stroke-width=".5" stroke-dasharray="4,3"/>
<text class="gr" x="371" y="443" style="font-size:4.5px">Layout note: 0.5" max for GTLREF</text>
<path class="w" d="M500,383V400M500,383H513l2,-2 3,4 3,-4 3,4 3,-4 3,4 2,-2H580M500,396H530l2,-2 3,4 3,-4 3,4 3,-4 3,4 2,-2H580M495,401H505M497,403H503"/>
<circle cx="500" cy="396" r="1" fill="#e020e0"/>
<text class="p"><tspan x="513" y="380">R259</tspan><tspan x="533" y="393">R258</tspan></text>
<text class="k"><tspan x="547" y="380">*1K/F</tspan><tspan x="546" y="393">51</tspan></text>
<rect x="506" y="389" width="56" height="12" class="g"/>
<path class="bl" d="M537,407L543,437L555,427"/>
<text class="p" style="font-family:'Liberation Mono',monospace;font-style:italic;font-size:8.5px"><tspan x="525" y="446">SI-2 modified ( intel</tspan><tspan x="525" y="457">request ww25 document</tspan><tspan x="525" y="468">)</tspan></text>
<!-- COMP -->
<path class="w" d="M667,365H735l2,-2 3,4 3,-4 3,4 3,-4 3,4 2,-2H784M667,371H735l2,-2 3,4 3,-4 3,4 3,-4 3,4 2,-2H784M667,377H735l2,-2 3,4 3,-4 3,4 3,-4 3,4 2,-2H784M667,383H735l2,-2 3,4 3,-4 3,4 3,-4 3,4 2,-2H784M784,365V383M784,370H796M796,365V375M798,367V373M800,369V371M667,395H724M667,401H724M667,408H866M667,414H866M667,420H735M667,426H735M691,395V383H747M821,395V408M833,358V374l2,2-4,3 4,3-4,3 4,3-2,2V414"/>
<text class="r"><tspan x="686" y="364">COMP0</tspan><tspan x="686" y="370">COMP1</tspan><tspan x="686" y="376">COMP2</tspan><tspan x="686" y="382">COMP3</tspan></text>
<text class="k"><tspan x="721" y="361">27.4/F</tspan><tspan x="721" y="367">54.9/F</tspan><tspan x="721" y="373">27.4/F</tspan><tspan x="721" y="379">54.9/F</tspan><tspan x="724" y="397">H_DPRSTP#   14,39</tspan><tspan x="724" y="403">H_DPSLP#   14</tspan><tspan x="735" y="422">H_CPUSLP#  6,14</tspan><tspan x="740" y="428">PSI#         39</tspan><tspan x="871" y="410">H_DPWR#   6</tspan><tspan x="871" y="416">H_PWRGD   14</tspan><tspan x="826" y="354">+1.05V</tspan></text>
<text class="p"><tspan x="755" y="361">R24</tspan><tspan x="755" y="367">R23</tspan><tspan x="755" y="373">R21</tspan><tspan x="755" y="379">R20</tspan><tspan x="751" y="390">T6</tspan><tspan x="766" y="386">PAD</tspan><tspan x="815" y="378">T14</tspan><tspan x="815" y="385">PAD</tspan><tspan x="840" y="380">R28</tspan><tspan x="840" y="386">*200/F</tspan></text>
<circle cx="747" cy="388" r="2" class="d"/><circle cx="821" cy="395" r="2" class="d"/>
<circle cx="833" cy="357" r="1.5" fill="none" stroke="#d03040" stroke-width=".7"/>
<rect x="691" y="383" width="57" height="12" fill="none" stroke="#f07010" stroke-width="1.4"/>
<use href="#f" x="845" y="408"/><use href="#f" x="845" y="414"/><use href="#f" x="715" y="420"/><use href="#f" x="715" y="426"/>
<text class="gr" x="803" y="430" style="font-size:4.5px">H_PWRGD is CMOS driving by ICH</text>
<path d="M710,420H772V450H710Z" fill="none" stroke="#e08090" stroke-width=".5" stroke-dasharray="3,2"/>
<text class="b m" x="717" y="441" style="font-size:8px">TO VRD</text>
<path class="bl" d="M703,397L697,450M691,444L697,450L703,444"/>
<text class="b m" style="font-size:8px"><tspan x="691" y="462">PV-2</tspan><tspan x="691" y="472">modified</tspan><tspan x="693" y="482">(remove)</tspan></text>

<!-- bottom left resistors -->
<text class="k" x="251" y="429">+1.05V</text>
<circle cx="259" cy="433" r="1.5" fill="none" stroke="#d03040" stroke-width=".7"/>
<path class="w" d="M136,453H198l2,-2 3,4 3,-4 3,4 3,-4 3,4 2,-2H259M136,478H198l2,-2 3,4 3,-4 3,4 3,-4 3,4 2,-2H259M136,502H198l2,-2 3,4 3,-4 3,4 3,-4 3,4 2,-2H259M136,527H198l2,-2 3,4 3,-4 3,4 3,-4 3,4 2,-2H259M136,552H198l2,-2 3,4 3,-4 3,4 3,-4 3,4 2,-2H259M259,434.5V502M259,527V568M253,568H265M255,570H263M257,572H261"/>
<text class="r"><tspan x="136" y="452">XDP_TMS</tspan><tspan x="136" y="477">XDP_TDI</tspan><tspan x="136" y="501">XDP_BPM#5</tspan><tspan x="136" y="526">XDP_TCK</tspan><tspan x="136" y="551">XDP_TRST#</tspan></text>
<text class="p"><tspan x="179" y="453">R16</tspan><tspan x="179" y="478">R19</tspan><tspan x="179" y="502">R13</tspan><tspan x="179" y="527">R17</tspan><tspan x="179" y="552">R14</tspan></text>
<text class="k"><tspan x="216" y="453">54.9/F</tspan><tspan x="216" y="478">54.9/F</tspan><tspan x="216" y="502">54.9/F</tspan><tspan x="216" y="527">54.9/F</tspan><tspan x="216" y="552">54.9/F</tspan></text>
<text class="k m" style="font-size:6.5px"><tspan x="31" y="494">XDP PU_R &lt; 0.2"</tspan><tspan x="31" y="525">Why BMP5 need PH ?</tspan></text>
<path class="bl" d="M80,511L118,506"/>
<text class="b m" style="font-size:9.5px"><tspan x="284" y="434">change part</tspan><tspan x="284" y="444">number (</tspan><tspan x="284" y="455">need to use</tspan><tspan x="284" y="465">1% resistor</tspan><tspan x="284" y="476">)</tspan></text>
<text class="k m" style="font-size:6.2px"><tspan x="296" y="500">XDP_TCK PD 27.4/1% ?</tspan><tspan x="296" y="510">XDP_TRST PD 510ohm /5% ?</tspan><tspan x="296" y="519">XDP_TDI PU 150ohm /1.05V</tspan><tspan x="296" y="529">XDP_TMS PU 39.2/1%?</tspan><tspan x="296" y="539">XDP_TDO PU 54.9ohm?</tspan><tspan x="296" y="548">For ITP700</tspan></text>

<!-- R265 / Q49 -->
<text class="r" x="420" y="479">XDP_DBRESET#</text>
<text class="p" x="468" y="480">R265</text>
<path class="w" d="M420,481H486l2,-2 3,4 3,-4 3,4 3,-4 3,4 2,-2H526M483,508V520l2,2-4,3 4,3-4,3 4,3-2,2V565M388,571H470M476,568L486,575H512"/>
<text class="k"><tspan x="500" y="479">*54.9/F</tspan><tspan x="532" y="483">+1.05V</tspan><tspan x="475" y="503">+1.05V</tspan><tspan x="533" y="576">VR_TT#  39</tspan></text>
<circle cx="529" cy="481" r="1.5" fill="none" stroke="#d03040" stroke-width=".7"/>
<circle cx="483" cy="506" r="1.5" fill="none" stroke="#d03040" stroke-width=".7"/>
<text class="p"><tspan x="486" y="528">R538</tspan><tspan x="486" y="534">*330</tspan><tspan x="473" y="585">Q49</tspan><tspan x="471" y="591">*MMBT3904</tspan></text>
<path d="M475,562V580M475,567L483,562M475,576L484,582" stroke="#2233cc" stroke-width=".9" fill="none"/>
<text class="r" x="395" y="570">H_PROCHOT#</text>
<use href="#f" x="512" y="575"/>
<text class="gr" style="font-size:4.5px"><tspan x="519" y="540">Shall install it ?</tspan><tspan x="519" y="548">pull up 3V_S0 in CRB</tspan></text>
<path class="bl" d="M512,488L531,531"/>

<!-- title block -->
<path d="M710,529H932V592H710ZM710,566H932M710,585H932M728,566V585M913,566V585M833,585V592" fill="none" stroke="#333" stroke-width=".7"/>
<path d="M766,557A14,14 0 1 1 780,538" fill="none" stroke="#1e4fa8" stroke-width="6"/>
<g fill="#d8283a"><rect x="760" y="547" width="26" height="2.5"/><rect x="762" y="551" width="24" height="2.5"/><rect x="764" y="555" width="22" height="2.5"/><path d="M760,545L772,541H786V544H760Z"/></g>
<text class="k m" x="795" y="549" style="font-size:8.5px">PROJECT : CT6</text>
<text class="k" x="783" y="562" style="font-size:10.5px;font-weight:bold">Quanta Computer Inc.</text>
<text class="k" style="font-size:4.5px"><tspan x="711" y="571">Size</tspan><tspan x="717" y="577">B</tspan><tspan x="734" y="571">Document Number</tspan><tspan x="914" y="571">Rev</tspan><tspan x="920" y="577">1A</tspan><tspan x="711" y="590">Date:</tspan><tspan x="734" y="590">Thursday, December 08, 2005</tspan><tspan x="834" y="590">Sheet</tspan><tspan x="863" y="590">3</tspan><tspan x="882" y="590">of</tspan><tspan x="902" y="590">44</tspan></text>
<text class="k" x="784" y="579" style="font-size:6px">CPU(1 OF 2 )</text>
</svg>
</body></html>
